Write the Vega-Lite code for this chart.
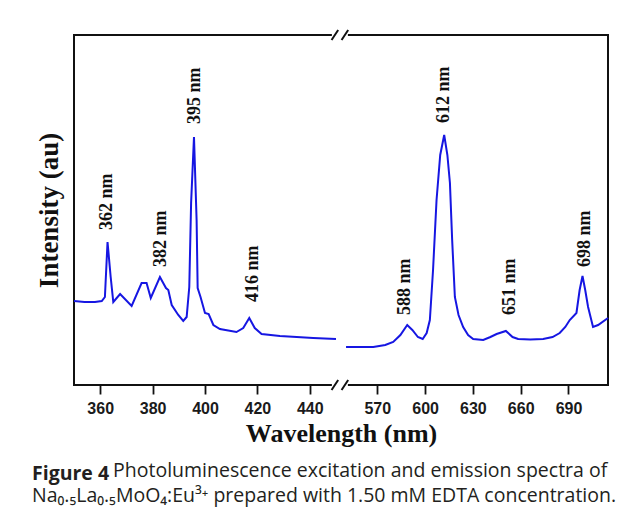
{
  "$schema": "https://vega.github.io/schema/vega-lite/v6.json",
  "width": 534,
  "height": 350,
  "autosize": {"type": "none"},
  "padding": {"left": 74, "top": 35, "right": 14, "bottom": 134},
  "background": "white",
  "config": {
    "view": {"stroke": "#111111", "strokeWidth": 2},
    "axis": {"grid": false}
  },
  "title": {
    "text": "Figure 4",
    "subtitle": ["\u200b\u00a0\u00a0\u00a0\u00a0\u00a0\u00a0\u00a0\u00a0\u00a0\u00a0\u00a0\u00a0\u00a0\u00a0\u00a0\u00a0Photoluminescence excitation and emission spectra of", "Na₀.₅La₀.₅MoO₄:Eu³⁺ prepared with 1.50 mM EDTA concentration."],
    "orient": "bottom",
    "anchor": "start",
    "frame": "group",
    "dx": -42,
    "offset": 19,
    "font": "Open Sans",
    "fontSize": 19.5,
    "fontWeight": "bold",
    "color": "#231f20",
    "subtitleFont": "Open Sans",
    "subtitleFontSize": 19.5,
    "subtitleColor": "#231f20",
    "subtitleLineHeight": 25,
    "subtitlePadding": -22.5
  },
  "datasets": {
    "spectrum": [
      {"wavelength": 350, "intensity": 84, "segment": "excitation"},
      {"wavelength": 354, "intensity": 83, "segment": "excitation"},
      {"wavelength": 358, "intensity": 83, "segment": "excitation"},
      {"wavelength": 360.6, "intensity": 84, "segment": "excitation"},
      {"wavelength": 361.8, "intensity": 88, "segment": "excitation"},
      {"wavelength": 362.8, "intensity": 143, "segment": "excitation"},
      {"wavelength": 364.0, "intensity": 108, "segment": "excitation"},
      {"wavelength": 365.0, "intensity": 83, "segment": "excitation"},
      {"wavelength": 367.6, "intensity": 91, "segment": "excitation"},
      {"wavelength": 372.0, "intensity": 79, "segment": "excitation"},
      {"wavelength": 375.8, "intensity": 102, "segment": "excitation"},
      {"wavelength": 377.7, "intensity": 102, "segment": "excitation"},
      {"wavelength": 379.3, "intensity": 87, "segment": "excitation"},
      {"wavelength": 382.8, "intensity": 108, "segment": "excitation"},
      {"wavelength": 385.1, "intensity": 97, "segment": "excitation"},
      {"wavelength": 386.0, "intensity": 95, "segment": "excitation"},
      {"wavelength": 387.3, "intensity": 80, "segment": "excitation"},
      {"wavelength": 389.8, "intensity": 70, "segment": "excitation"},
      {"wavelength": 391.7, "intensity": 64, "segment": "excitation"},
      {"wavelength": 393.0, "intensity": 68, "segment": "excitation"},
      {"wavelength": 394.0, "intensity": 98, "segment": "excitation"},
      {"wavelength": 394.7, "intensity": 182, "segment": "excitation"},
      {"wavelength": 395.8, "intensity": 248, "segment": "excitation"},
      {"wavelength": 396.8, "intensity": 165, "segment": "excitation"},
      {"wavelength": 397.2, "intensity": 97, "segment": "excitation"},
      {"wavelength": 398.3, "intensity": 88, "segment": "excitation"},
      {"wavelength": 400.0, "intensity": 72, "segment": "excitation"},
      {"wavelength": 401.4, "intensity": 71, "segment": "excitation"},
      {"wavelength": 403.2, "intensity": 60, "segment": "excitation"},
      {"wavelength": 405.7, "intensity": 56, "segment": "excitation"},
      {"wavelength": 412.0, "intensity": 53, "segment": "excitation"},
      {"wavelength": 414.6, "intensity": 57, "segment": "excitation"},
      {"wavelength": 416.9, "intensity": 67, "segment": "excitation"},
      {"wavelength": 419.0, "intensity": 57, "segment": "excitation"},
      {"wavelength": 421.6, "intensity": 51, "segment": "excitation"},
      {"wavelength": 428.6, "intensity": 49, "segment": "excitation"},
      {"wavelength": 435.0, "intensity": 48, "segment": "excitation"},
      {"wavelength": 441.3, "intensity": 47, "segment": "excitation"},
      {"wavelength": 450.0, "intensity": 46, "segment": "excitation"},
      {"wavelength": 550.4, "intensity": 38, "segment": "emission"},
      {"wavelength": 557.0, "intensity": 38, "segment": "emission"},
      {"wavelength": 567.5, "intensity": 38, "segment": "emission"},
      {"wavelength": 575.0, "intensity": 40, "segment": "emission"},
      {"wavelength": 580.0, "intensity": 43, "segment": "emission"},
      {"wavelength": 584.5, "intensity": 50, "segment": "emission"},
      {"wavelength": 588.8, "intensity": 60, "segment": "emission"},
      {"wavelength": 592.0, "intensity": 55, "segment": "emission"},
      {"wavelength": 595.5, "intensity": 48, "segment": "emission"},
      {"wavelength": 598.5, "intensity": 46, "segment": "emission"},
      {"wavelength": 601.0, "intensity": 52, "segment": "emission"},
      {"wavelength": 603.0, "intensity": 65, "segment": "emission"},
      {"wavelength": 605.0, "intensity": 115, "segment": "emission"},
      {"wavelength": 607.2, "intensity": 185, "segment": "emission"},
      {"wavelength": 609.5, "intensity": 230, "segment": "emission"},
      {"wavelength": 612.0, "intensity": 250, "segment": "emission"},
      {"wavelength": 614.0, "intensity": 230, "segment": "emission"},
      {"wavelength": 615.6, "intensity": 202, "segment": "emission"},
      {"wavelength": 617.0, "intensity": 145, "segment": "emission"},
      {"wavelength": 618.7, "intensity": 88, "segment": "emission"},
      {"wavelength": 621.0, "intensity": 70, "segment": "emission"},
      {"wavelength": 623.9, "intensity": 58, "segment": "emission"},
      {"wavelength": 627.0, "intensity": 50, "segment": "emission"},
      {"wavelength": 630.2, "intensity": 46, "segment": "emission"},
      {"wavelength": 636.5, "intensity": 45, "segment": "emission"},
      {"wavelength": 641.0, "intensity": 48, "segment": "emission"},
      {"wavelength": 644.9, "intensity": 51, "segment": "emission"},
      {"wavelength": 650.7, "intensity": 54, "segment": "emission"},
      {"wavelength": 654.9, "intensity": 48, "segment": "emission"},
      {"wavelength": 658.4, "intensity": 46, "segment": "emission"},
      {"wavelength": 666.0, "intensity": 45.5, "segment": "emission"},
      {"wavelength": 674.1, "intensity": 46, "segment": "emission"},
      {"wavelength": 680.0, "intensity": 48, "segment": "emission"},
      {"wavelength": 684.5, "intensity": 52, "segment": "emission"},
      {"wavelength": 688.0, "intensity": 58, "segment": "emission"},
      {"wavelength": 690.8, "intensity": 65, "segment": "emission"},
      {"wavelength": 695.0, "intensity": 72, "segment": "emission"},
      {"wavelength": 697.0, "intensity": 95, "segment": "emission"},
      {"wavelength": 698.8, "intensity": 109, "segment": "emission"},
      {"wavelength": 700.5, "intensity": 95, "segment": "emission"},
      {"wavelength": 702.3, "intensity": 78, "segment": "emission"},
      {"wavelength": 705.4, "intensity": 58, "segment": "emission"},
      {"wavelength": 708.6, "intensity": 60, "segment": "emission"},
      {"wavelength": 714.8, "intensity": 67, "segment": "emission"}
    ],
    "labels": [
      {"wavelength": 362.7, "intensity": 155, "label": "362 nm"},
      {"wavelength": 383.3, "intensity": 118, "label": "382 nm"},
      {"wavelength": 396.3, "intensity": 261, "label": "395 nm"},
      {"wavelength": 418.4, "intensity": 83, "label": "416 nm"},
      {"wavelength": 587.3, "intensity": 70, "label": "588 nm"},
      {"wavelength": 611.8, "intensity": 262, "label": "612 nm"},
      {"wavelength": 653.3, "intensity": 70, "label": "651 nm"},
      {"wavelength": 700.3, "intensity": 118, "label": "698 nm"}
    ],
    "breaks": [
      {"wavelength": 500, "intensity": 0},
      {"wavelength": 500, "intensity": 350}
    ]
  },
  "layer": [
    {
      "data": {"name": "spectrum"},
      "mark": {"type": "line", "color": "#1616e2", "strokeWidth": 2},
      "encoding": {
        "x": {
          "field": "wavelength",
          "type": "quantitative",
          "scale": {"domain": [350, 451, 547.3, 714.8], "range": [0, 264.6, 267.1, 534], "zero": false, "nice": false},
          "axis": {
            "values": [360, 370, 380, 390, 400, 410, 420, 430, 440, 555, 570, 585, 600, 615, 630, 645, 660, 675, 690, 705],
            "labelExpr": "((datum.value < 500 && datum.value % 20 == 0) || (datum.value > 500 && datum.value % 30 == 0)) ? datum.label : ''",
            "tickSize": {"condition": {"test": "(datum.value < 500 && datum.value % 20 == 0) || (datum.value > 500 && datum.value % 30 == 0)", "value": 9}, "value": 5},
            "tickColor": "#111111",
            "tickWidth": 1.8,
            "domain": false,
            "labelFont": "Liberation Sans",
            "labelFontWeight": "bold",
            "labelFontSize": 16,
            "labelColor": "#1a1a1a",
            "labelPadding": 6,
            "labelOverlap": false,
            "labelFlush": false,
            "title": "Wavelength (nm)",
            "titleFont": "Liberation Serif",
            "titleFontWeight": "bold",
            "titleFontSize": 26,
            "titleColor": "#111111",
            "titlePadding": 4
          }
        },
        "y": {
          "field": "intensity",
          "type": "quantitative",
          "scale": {"domain": [0, 350], "zero": false, "nice": false},
          "axis": {
            "labels": false,
            "ticks": false,
            "domain": false,
            "title": "Intensity (au)",
            "titleFont": "Liberation Serif",
            "titleFontWeight": "bold",
            "titleFontSize": 27,
            "titleColor": "#111111",
            "titlePadding": 11
          }
        },
        "detail": {"field": "segment"}
      }
    },
    {
      "data": {"name": "labels"},
      "mark": {"type": "text", "angle": 270, "align": "left", "baseline": "middle", "font": "Liberation Serif", "fontWeight": "bold", "fontSize": 18, "color": "#111111"},
      "encoding": {
        "x": {"field": "wavelength", "type": "quantitative"},
        "y": {"field": "intensity", "type": "quantitative"},
        "text": {"field": "label"}
      }
    },
    {
      "data": {"name": "breaks"},
      "mark": {"type": "point", "shape": "M-0.8,-0.2L0.8,-0.2L0.8,0.2L-0.8,0.2Z", "size": 400, "filled": true, "fill": "white", "strokeWidth": 0, "opacity": 1},
      "encoding": {
        "x": {"field": "wavelength", "type": "quantitative"},
        "y": {"field": "intensity", "type": "quantitative"}
      }
    },
    {
      "data": {"name": "breaks"},
      "mark": {"type": "point", "shape": "M-0.83,0.5L-0.17,-0.5M0.17,0.5L0.83,-0.5", "size": 400, "filled": false, "stroke": "#111111", "strokeWidth": 2, "opacity": 1},
      "encoding": {
        "x": {"field": "wavelength", "type": "quantitative"},
        "y": {"field": "intensity", "type": "quantitative"}
      }
    }
  ]
}
